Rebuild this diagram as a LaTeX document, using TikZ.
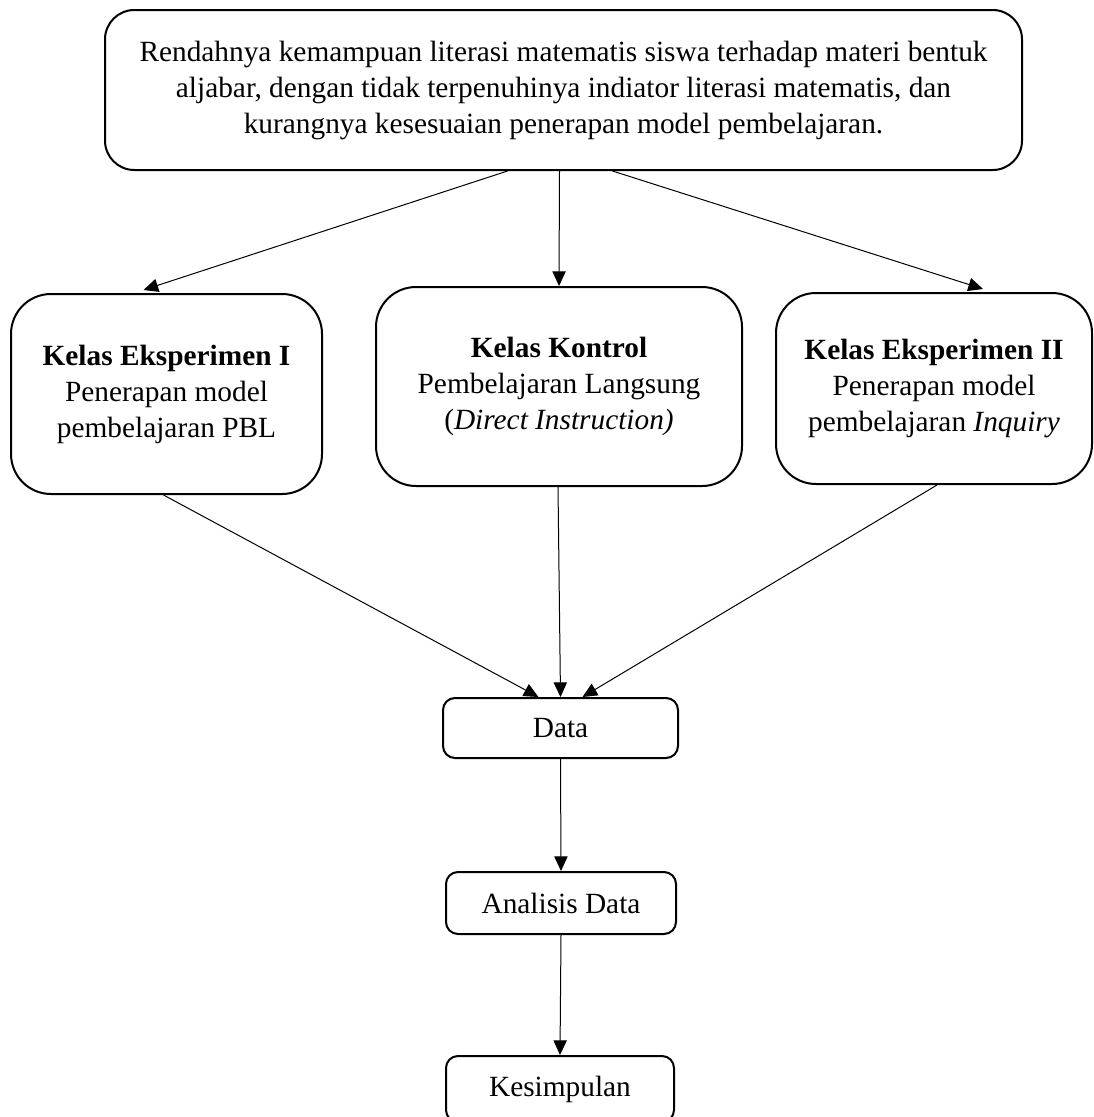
\documentclass[tikz,border=0pt]{standalone}
\usepackage{fontspec}
\setmainfont{Liberation Serif}
\usetikzlibrary{arrows.meta,calc}

\begin{document}
\begin{tikzpicture}[x=0.75pt,y=0.75pt,yscale=-1,xscale=1,
	kotak/.style={draw, line width=1.5pt, align=center, inner sep=0pt, font=\fontsize{22}{27}\selectfont},
	panah/.style={line width=0.75pt, -{Triangle[length=11pt,width=10pt]}}]
	\useasboundingbox (0,0) rectangle (1093,1117);
	\node (masalah) [kotak, rounded corners=22pt, minimum width=687.75pt, minimum height=120pt] at (563.5,90) {Rendahnya kemampuan literasi matematis siswa terhadap materi bentuk\\ aljabar, dengan tidak terpenuhinya indiator literasi matematis, dan\\ kurangnya kesesuaian penerapan model pembelajaran.};
	\node (eksI) [kotak, rounded corners=30pt, minimum width=233.25pt, minimum height=150pt] at (166.5,394) {\textbf{Kelas Eksperimen I}\\ Penerapan model\\ pembelajaran PBL};
	\node (kontrol) [kotak, rounded corners=30pt, minimum width=274.5pt, minimum height=149.25pt] at (559,386.5) {\textbf{Kelas Kontrol}\\ Pembelajaran Langsung\\ (\textit{Direct Instruction)}};
	\node (eksII) [kotak, rounded corners=30pt, minimum width=237pt, minimum height=143.25pt] at (934,388.5) {\textbf{Kelas Eksperimen II}\\ Penerapan model\\ pembelajaran \textit{Inquiry}};
	\node (data) [kotak, rounded corners=9pt, minimum width=176.25pt, minimum height=45pt] at (560.5,728) {Data};
	\node (analisis) [kotak, rounded corners=9pt, minimum width=172.5pt, minimum height=46.5pt] at (561,903) {Analisis Data};
	\node (simpulan) [kotak, rounded corners=9pt, minimum width=171pt, minimum height=49.5pt] at (560,1089) {Kesimpulan};
	\draw [panah] ($(masalah.south)+(-56,0)$) -- ($(eksI.north)+(-23,-3)$);
	\draw [panah] ($(masalah.south)+(-4,0)$) -- (kontrol.north);
	\draw [panah] ($(masalah.south)+(49,0)$) -- ($(eksII.north)+(49,-3)$);
	\draw [panah] ($(eksI.south)+(-3,0)$) -- ($(data.north)+(-22,0)$);
	\draw [panah] ($(kontrol.south)+(-1,0)$) -- (data.north);
	\draw [panah] ($(eksII.south)+(3,0)$) -- ($(data.north)+(22,0)$);
	\draw [panah] (data.south) -- (analisis.north);
	\draw [panah] (analisis.south) -- (simpulan.north);
\end{tikzpicture}
\end{document}
